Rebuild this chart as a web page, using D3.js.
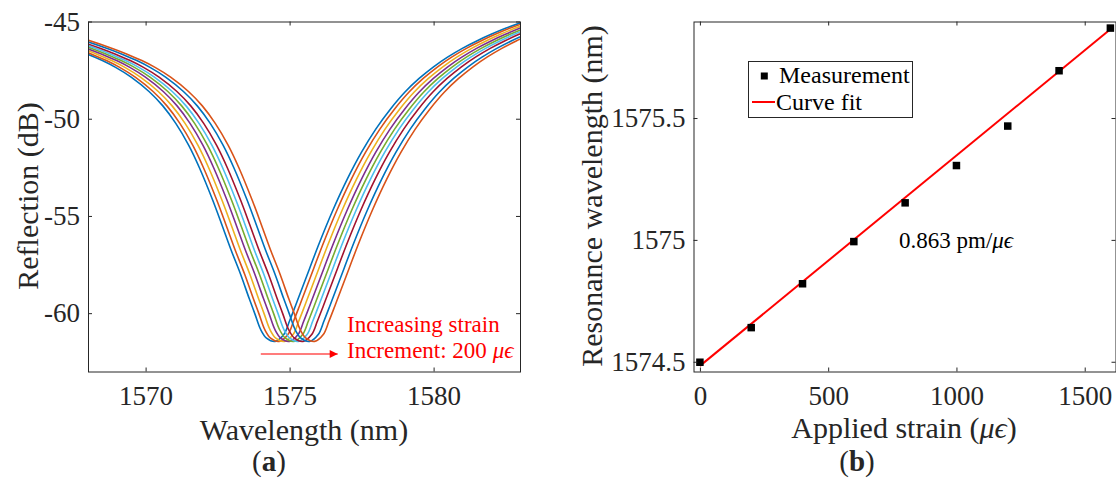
<!DOCTYPE html>
<html>
<head>
<meta charset="utf-8">
<script src="https://cdn.jsdelivr.net/npm/d3@7/dist/d3.min.js"></script>
<style>
  html, body { margin: 0; padding: 0; background: #fff; }
  svg { display: block; font-family: "Liberation Serif", "DejaVu Serif", serif; }
  .tick text { fill: #262626; }
  .ital { font-style: italic; }
</style>
</head>
<body>
<svg id="fig" width="1116" height="482"></svg>
<script>
// (a) reflection spectra: dip shape as (offset from the
// resonance in nm, dB); each trace is that dip placed at its measured resonance (panel b).
const dipOffset = [-10, -9, -8, -7, -6.53, -6.0, -5.54, -5.0, -4.38, -3.9, -3.45, -3.0, -2.63, -2.17, -1.85,
                   -1.53, -1.2, -0.9, -0.7, -0.5, -0.3, 0,
                   0.3, 0.5, 0.7, 0.9, 1.2, 1.5, 2.0, 2.5, 3.0, 3.5, 4.0, 4.5, 5.0, 5.5, 6.0, 6.5, 7.0, 7.5, 8.0, 8.5, 9.0, 10];
const dipReflection = [-45.08, -45.47, -45.9, -46.4, -46.67, -47.01, -47.36, -47.86, -48.6, -49.34, -50.24, -51.37, -52.52, -54.18, -55.45,
                       -56.75, -58.0, -59.25, -60.05, -60.85, -61.28, -61.45,
                       -61.1, -60.4, -59.64, -58.86, -57.69, -56.52, -54.72, -53.12, -51.72, -50.52, -49.51, -48.64, -47.93, -47.33, -46.82, -46.38, -46.0, -45.66, -45.35, -45.08, -44.83, -44.38];
const traceColors = ["#0072BD", "#D95319", "#EDB120", "#7E2F8E", "#77AC30", "#4DBEEE", "#A2142F", "#0072BD", "#D95319"];

// (b) resonance wavelength vs applied strain
const strain = [0, 200, 400, 600, 800, 1000, 1200, 1400, 1600];
const resonance = [1574.498, 1574.64, 1574.82, 1574.993, 1575.152, 1575.305, 1575.467, 1575.694, 1575.869];
const fitStrain = [0, 1600];
const fitWavelength = [1574.483, 1575.864];

const aXTicks = [1570, 1575, 1580];
const aYTicks = [-60, -55, -50, -45];
const bXTicks = [0, 500, 1000, 1500];
const bYTicks = [1574.5, 1575, 1575.5];

const svg = d3.select("#fig");
const AX = "#262626";
const TICKFONT = 27;

function frame(g, x, y, xt, yt, fmtY) {
  const [x0, x1] = x.range(), [y0, y1] = y.range();
  const styleAxis = (sel) => {
    sel.select(".domain").remove();
    sel.selectAll(".tick line").attr("stroke", AX).attr("stroke-width", 1);
    sel.selectAll(".tick text").attr("font-size", TICKFONT);
  };
  g.append("g").attr("transform", `translate(0,${y0})`)
    .call(d3.axisBottom(x).tickValues(xt).tickSize(-4).tickPadding(14).tickFormat((d) => String(d)))
    .call(styleAxis);
  g.append("g").attr("transform", `translate(0,${y1})`)
    .call(d3.axisTop(x).tickValues(xt).tickSize(-4).tickFormat(""))
    .call(styleAxis);
  g.append("g").attr("transform", `translate(${x0},0)`)
    .call(d3.axisLeft(y).tickValues(yt).tickSize(-4).tickPadding(8).tickFormat(fmtY))
    .call(styleAxis);
  g.append("g").attr("transform", `translate(${x1},0)`)
    .call(d3.axisRight(y).tickValues(yt).tickSize(-4).tickFormat(""))
    .call(styleAxis);
  g.selectAll(".tick text").attr("font-family", "Liberation Serif");
  g.append("rect")
    .attr("x", x0 + 0.5).attr("y", y1 + 0.5)
    .attr("width", x1 - x0).attr("height", y0 - y1)
    .attr("fill", "none").attr("stroke", AX).attr("stroke-width", 1);
}

// ---------------- panel (a) ----------------
const xa = d3.scaleLinear().domain([1568, 1583]).range([88, 520]);
const ya = d3.scaleLinear().domain([-63, -45]).range([371.5, 21.5]);
const ga = svg.append("g");

ga.append("clipPath").attr("id", "clipA")
  .append("rect").attr("x", 88).attr("y", 21.5).attr("width", 432).attr("height", 350);

const lineA = d3.line().curve(d3.curveCatmullRom.alpha(0.5))
  .x((d) => xa(d[0])).y((d) => ya(d[1]));

const traces = resonance.map((r) => dipOffset.map((o, j) => [r + o, dipReflection[j]]));
ga.append("g").attr("clip-path", "url(#clipA)")
  .selectAll("path").data(traces).join("path")
  .attr("d", lineA)
  .attr("fill", "none")
  .attr("stroke", (_, k) => traceColors[k])
  .attr("stroke-width", 1.6);

frame(ga, xa, ya, aXTicks, aYTicks, (d) => String(d));

// strain annotation
const defs = svg.append("defs");
defs.append("marker").attr("id", "arrowRed")
  .attr("viewBox", "0 0 10 10").attr("refX", 10).attr("refY", 5)
  .attr("markerWidth", 10).attr("markerHeight", 8).attr("markerUnits", "userSpaceOnUse")
  .attr("orient", "auto")
  .append("path").attr("d", "M0,0 L10,5 L0,10 z").attr("fill", "#ff0000");
ga.append("line")
  .attr("x1", xa(1574.0)).attr("x2", xa(1576.67))
  .attr("y1", ya(-62.1)).attr("y2", ya(-62.1))
  .attr("stroke", "#ff5050").attr("stroke-width", 1.5)
  .attr("marker-end", "url(#arrowRed)");
ga.append("text").attr("x", 347).attr("y", 332)
  .attr("font-size", 23).attr("fill", "#ff0000").text("Increasing strain");
const inc = ga.append("text").attr("x", 347).attr("y", 358)
  .attr("font-size", 23).attr("fill", "#ff0000");
inc.append("tspan").text("Increment: 200 ");
inc.append("tspan").attr("class", "ital").text("μϵ");

ga.append("text").attr("x", 304).attr("y", 440).attr("text-anchor", "middle")
  .attr("font-size", 30).attr("fill", AX).text("Wavelength (nm)");
ga.append("text").attr("transform", "translate(38,196) rotate(-90)")
  .attr("text-anchor", "middle").attr("font-size", 30).attr("fill", AX)
  .text("Reflection (dB)");
const capA = ga.append("text").attr("x", 269).attr("y", 471).attr("text-anchor", "middle")
  .attr("font-size", 29).attr("fill", AX);
capA.append("tspan").text("(");
capA.append("tspan").attr("font-weight", "bold").text("a");
capA.append("tspan").text(")");

// ---------------- panel (b) ----------------
const xb = d3.scaleLinear().domain([-25, 1620]).range([693.5, 1115.5]);
const yb = d3.scaleLinear().domain([1574.46, 1575.896]).range([371.5, 21.5]);
const gb = svg.append("g");

gb.append("path")
  .datum(fitStrain.map((s, k) => [s, fitWavelength[k]]))
  .attr("d", d3.line().x((d) => xb(d[0])).y((d) => yb(d[1])))
  .attr("fill", "none").attr("stroke", "#ff0000").attr("stroke-width", 2);

const SQ = 7.5;
gb.selectAll("rect.pt").data(strain).join("rect").attr("class", "pt")
  .attr("x", (d) => xb(d) - SQ / 2)
  .attr("y", (d, k) => yb(resonance[k]) - SQ / 2)
  .attr("width", SQ).attr("height", SQ).attr("fill", "#000");

frame(gb, xb, yb, bXTicks, bYTicks, (d) => String(d));

// legend
const lg = gb.append("g");
lg.append("rect").attr("x", 748.5).attr("y", 61.5).attr("width", 164).attr("height", 56)
  .attr("fill", "#fff").attr("stroke", AX).attr("stroke-width", 1);
lg.append("rect").attr("x", 764.3 - 3.5).attr("y", 76 - 3.5).attr("width", 7).attr("height", 7).attr("fill", "#000");
lg.append("text").attr("x", 779).attr("y", 83).attr("font-size", 24).attr("fill", "#000").text("Measurement");
lg.append("line").attr("x1", 752).attr("x2", 775).attr("y1", 102).attr("y2", 102)
  .attr("stroke", "#ff0000").attr("stroke-width", 2);
lg.append("text").attr("x", 776).attr("y", 110).attr("font-size", 24).attr("fill", "#000").text("Curve fit");

const sens = gb.append("text").attr("x", 899).attr("y", 248).attr("font-size", 23).attr("fill", "#000");
sens.append("tspan").text("0.863 pm/");
sens.append("tspan").attr("class", "ital").text("μϵ");

const xl = gb.append("text").attr("x", 904).attr("y", 438).attr("text-anchor", "middle")
  .attr("font-size", 30).attr("fill", AX);
xl.append("tspan").text("Applied strain (");
xl.append("tspan").attr("class", "ital").text("μϵ");
xl.append("tspan").text(")");
gb.append("text").attr("transform", "translate(602,196) rotate(-90)")
  .attr("text-anchor", "middle").attr("font-size", 30).attr("fill", AX)
  .text("Resonance wavelength (nm)");
const capB = gb.append("text").attr("x", 857).attr("y", 471).attr("text-anchor", "middle")
  .attr("font-size", 29).attr("fill", AX);
capB.append("tspan").text("(");
capB.append("tspan").attr("font-weight", "bold").text("b");
capB.append("tspan").text(")");
</script>
</body>
</html>
